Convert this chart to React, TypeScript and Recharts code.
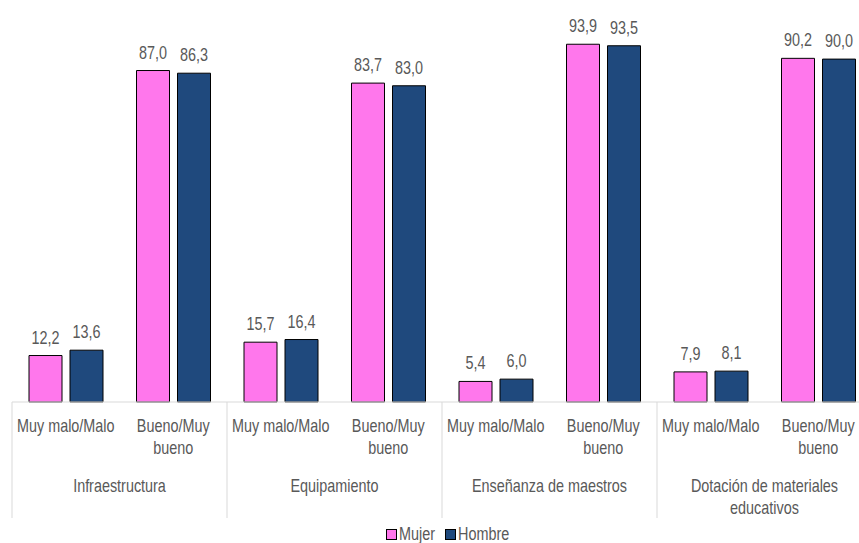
import { BarChart, Bar, XAxis, YAxis, LabelList } from 'recharts';

const categories = [
  'Muy malo/Malo', 'Bueno/Muy bueno',
  'Muy malo/Malo', 'Bueno/Muy bueno',
  'Muy malo/Malo', 'Bueno/Muy bueno',
  'Muy malo/Malo', 'Bueno/Muy bueno',
];
const groups = ['Infraestructura', 'Equipamiento', 'Enseñanza de maestros', 'Dotación de materiales educativos'];
const mujer = [12.2, 87.0, 15.7, 83.7, 5.4, 93.9, 7.9, 90.2];
const hombre = [13.6, 86.3, 16.4, 83.0, 6.0, 93.5, 8.1, 90.0];

const subLines: Record<string, string[]> = {
  'Muy malo/Malo': ['Muy malo/Malo'],
  'Bueno/Muy bueno': ['Bueno/Muy', 'bueno'],
};
const groupLines: Record<string, string[]> = {
  'Dotación de materiales educativos': ['Dotación de materiales', 'educativos'],
};

const data = categories.map((c, i) => ({
  sub: c,
  group: groups[Math.floor(i / 2)],
  mujer: mujer[i],
  hombre: hombre[i],
}));

const FONT = "'Liberation Sans', Arial, sans-serif";
const TEXT = '#595959';
const GRID = '#D9D9D9';
const PINK = '#FF77EC';
const BLUE = '#1F497D';
const SQUEEZE = 0.8;

const CHART_W = 872;
const LEFT = 12;
const BAND = (CHART_W - LEFT) / categories.length;

const fmt = (v: number) => v.toFixed(1).replace('.', ',');

// texto estrecho (imita Arial Narrow)
function Narrow({ x, y, children, size = 18 }: { x: number; y: number; children: any; size?: number }) {
  return (
    <text
      transform={`translate(${x},${y}) scale(${SQUEEZE},1)`}
      textAnchor="middle"
      fill={TEXT}
      fontSize={size}
      fontFamily={FONT}
    >
      {children}
    </text>
  );
}

function Tick(props: any) {
  const { x, y, payload, index } = props;
  const lines = subLines[payload.value] ?? [payload.value];
  const grp = data[index].group;
  const gLines = groupLines[grp] ?? [grp];
  const top = y - 8;
  return (
    <g>
      {lines.map((l, i) => (
        <Narrow key={i} x={x} y={top + 30 + i * 22}>{l}</Narrow>
      ))}
      {index % 2 === 0 && (
        <>
          <line x1={x - BAND / 2} x2={x - BAND / 2} y1={top} y2={top + 116} stroke={GRID} />
          {gLines.map((l, i) => (
            <Narrow key={'g' + i} x={x + BAND / 2} y={top + 90 + i * 22}>{l}</Narrow>
          ))}
        </>
      )}
    </g>
  );
}

function ValueLabel(props: any) {
  const { x, y, width, value } = props;
  return <Narrow x={x + width / 2} y={y - 12}>{fmt(Number(value))}</Narrow>;
}

function LegendBox({ color, label }: { color: string; label: string }) {
  return (
    <span style={{ display: 'inline-flex', alignItems: 'center' }}>
      <span style={{ width: 9, height: 9, background: color, border: '1px solid #000', marginRight: 2 }} />
      <span style={{ display: 'inline-block', transform: `scaleX(${SQUEEZE})`, transformOrigin: 'left center' }}>{label}</span>
    </span>
  );
}

export default function App() {
  return (
    <div style={{ position: 'absolute', left: 0, top: 0, width: 859, height: 543, overflow: 'hidden', background: '#fff' }}>
      <BarChart
        width={CHART_W}
        height={543}
        data={data}
        margin={{ top: 21, right: 0, left: LEFT, bottom: 0 }}
        barSize={33}
        barGap={8}
      >
        <XAxis
          dataKey="sub"
          height={141}
          interval={0}
          tickLine={false}
          axisLine={{ stroke: GRID }}
          tick={<Tick />}
        />
        <YAxis hide domain={[0, 100]} />
        <Bar dataKey="mujer" fill={PINK} stroke="#000" strokeWidth={1} isAnimationActive={false}>
          <LabelList dataKey="mujer" content={<ValueLabel />} />
        </Bar>
        <Bar dataKey="hombre" fill={BLUE} stroke="#000" strokeWidth={1} isAnimationActive={false}>
          <LabelList dataKey="hombre" content={<ValueLabel />} />
        </Bar>
      </BarChart>
      <div
        style={{
          position: 'absolute', left: 386, top: 524, fontFamily: FONT, fontSize: 18, color: TEXT,
          display: 'flex', lineHeight: '20px', gap: 0,
        }}
      >
        <LegendBox color={PINK} label="Mujer" />
        <span style={{ width: 1 }} />
        <LegendBox color={BLUE} label="Hombre" />
      </div>
    </div>
  );
}
